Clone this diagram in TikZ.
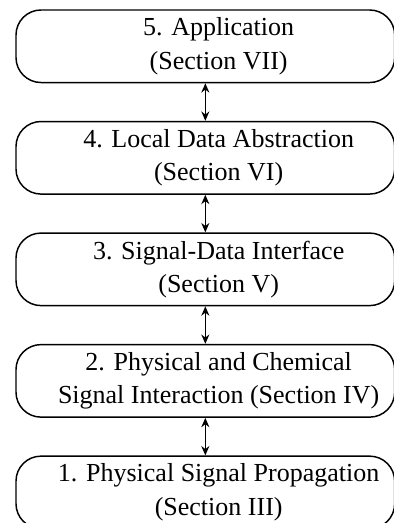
\documentclass[tikz,border=0pt]{standalone}
\usepackage{fontspec}
\setmainfont{Liberation Serif}
\usetikzlibrary{arrows.meta,positioning}

\begin{document}
\begin{tikzpicture}[node distance=28.15pt,>={Stealth[length=7pt,width=6pt]},
  box/.style={draw,line width=1.1pt,rounded corners=18.75pt,minimum width=284pt,minimum height=54.4pt,inner sep=0pt},
  lbl/.style={align=center,inner sep=0pt,font=\fontsize{19.5}{25}\selectfont}]
  \useasboundingbox (-154pt,34.7pt) rectangle (140.75pt,-357.55pt);
  \node[box] (l5) at (0,0) {};
  \node[box,below=of l5] (l4) {};
  \node[box,below=of l4] (l3) {};
  \node[box,below=of l3] (l2) {};
  \node[box,below=of l2] (l1) {};
  \node[lbl] (t5) at ([xshift=10pt]l5.center) {5. Application\\(Section VII)};
  \node[lbl] (t4) at ([xshift=10pt]l4.center) {4. Local Data Abstraction\\(Section VI)};
  \node[lbl] (t3) at ([xshift=10pt]l3.center) {3. Signal-Data Interface\\(Section V)};
  \node[lbl] (t2) at ([xshift=10pt]l2.center) {2. Physical and Chemical\\Signal Interaction (Section IV)};
  \node[lbl] (t1) at ([xshift=10pt]l1.center) {1. Physical Signal Propagation\\(Section III)};
  \draw[<->,line width=1.2pt] (l5) -- (l4);
  \draw[<->,line width=1.2pt] (l4) -- (l3);
  \draw[<->,line width=1.2pt] (l3) -- (l2);
  \draw[<->,line width=1.2pt] (l2) -- (l1);
\end{tikzpicture}
\end{document}
